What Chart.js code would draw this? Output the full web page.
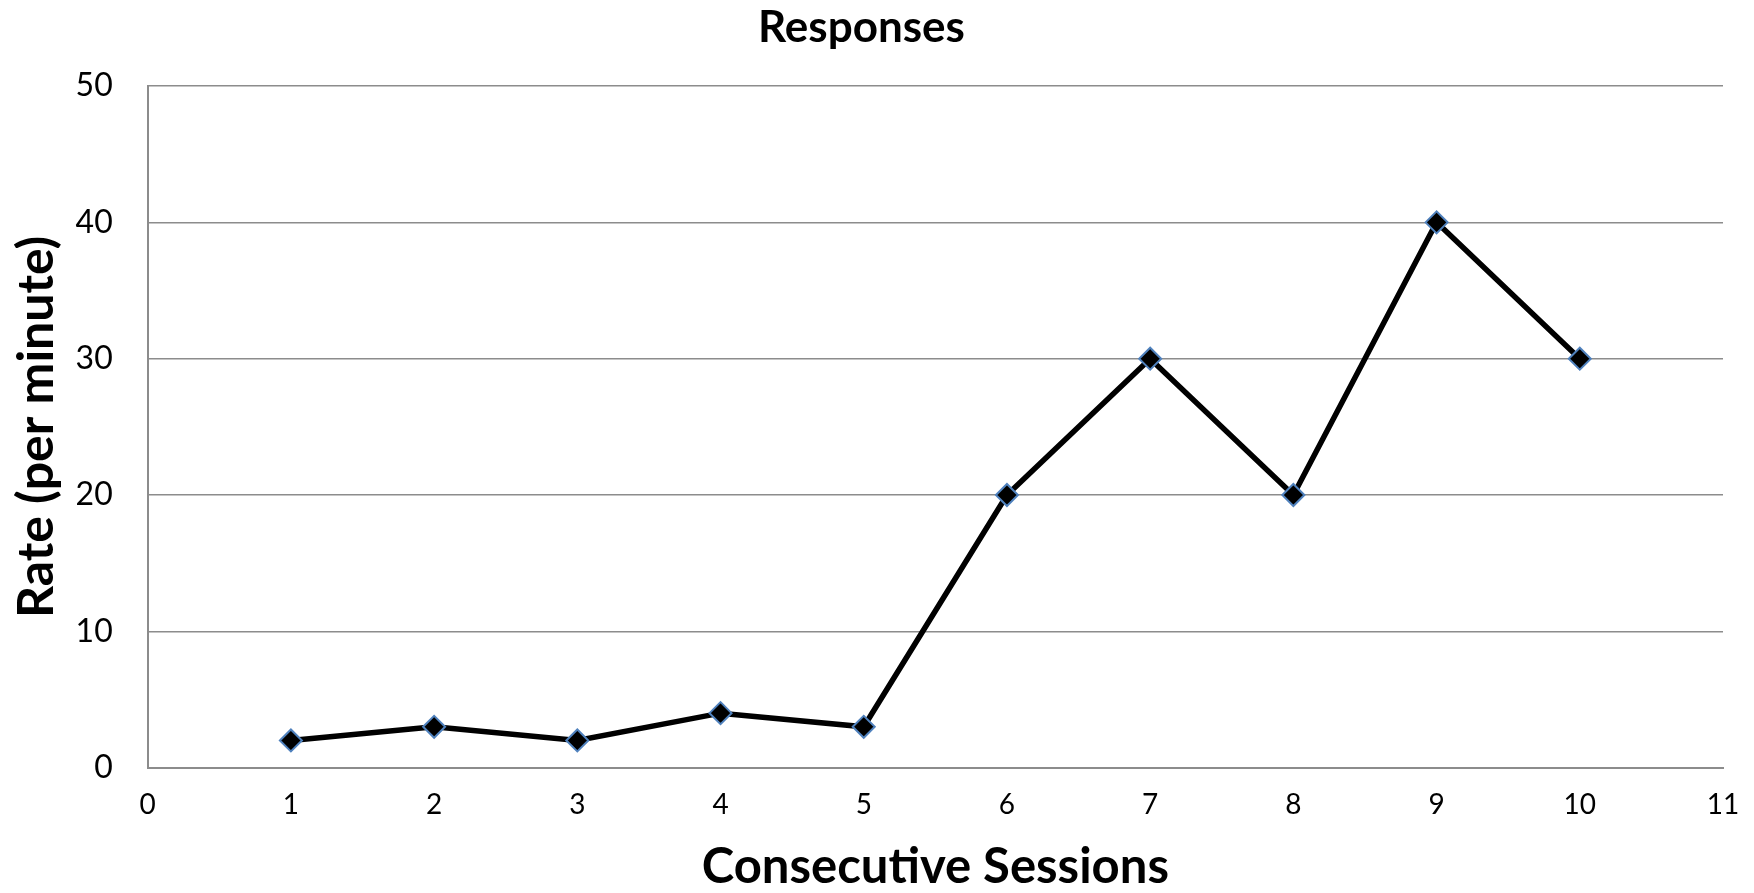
<!DOCTYPE html>
<html>
<head>
<meta charset="utf-8">
<script src="https://cdn.jsdelivr.net/npm/chart.js@4"></script>
<style>
  html, body { margin: 0; padding: 0; background: #fff; }
  canvas { display: block; }
</style>
</head>
<body>
<canvas id="chart" width="1754" height="893"></canvas>
<script>
const sessions = [1, 2, 3, 4, 5, 6, 7, 8, 9, 10];
const rates = [2, 3, 2, 4, 3, 20, 30, 20, 40, 30];

const xMin = 0, xMax = 11;
const yMin = 0, yMax = 50, yStep = 10;

const fontFamily = "Lato, 'Open Sans', sans-serif";
const gridGray = '#8c8c8c';

const ctx = document.getElementById('chart').getContext('2d');

const chart = new Chart(ctx, {
  type: 'line',
  data: {
    datasets: [{
      data: sessions.map((s, i) => ({ x: s, y: rates[i] })),
      borderColor: '#000',
      borderWidth: 5.5,
      tension: 0,
      pointStyle: 'rectRot',
      pointRadius: 11,
      pointBackgroundColor: '#000',
      pointBorderColor: '#4f81bd',
      pointBorderWidth: 2
    }]
  },
  options: {
    responsive: false,
    animation: false,
    devicePixelRatio: 1,
    layout: {
      padding: { left: 0, right: 31, top: 0, bottom: 0 }
    },
    plugins: {
      legend: { display: false },
      tooltip: { enabled: false },
      title: {
        display: true,
        text: 'Responses',
        color: '#000',
        font: { family: fontFamily, size: 44, weight: 'bold', lineHeight: 1.2 },
        padding: { top: 1, bottom: 32.2 }
      }
    },
    scales: {
      x: {
        type: 'linear',
        min: xMin,
        max: xMax,
        afterFit: (scale) => {
          scale.height = 893 - 767.7;
          scale.paddingRight = 0;
        },
        ticks: {
          stepSize: 1,
          color: '#000',
          padding: 20,
          font: { family: fontFamily, size: 28 }
        },
        grid: { display: false, drawTicks: false },
        border: { display: true, color: gridGray, width: 2 },
        title: {
          display: true,
          text: 'Consecutive Sessions',
          color: '#000',
          font: { family: fontFamily, size: 49, weight: 'bold', lineHeight: 1 },
          padding: { top: 0, bottom: 1.5 }
        }
      },
      y: {
        min: yMin,
        max: yMax,
        afterFit: (scale) => { scale.width = 147.7; },
        ticks: {
          stepSize: yStep,
          color: '#000',
          padding: 35,
          font: { family: fontFamily, size: 32 }
        },
        grid: { color: gridGray, lineWidth: 1.5, drawTicks: false },
        border: { display: true, color: gridGray, width: 2 },
        title: {
          display: true,
          text: 'Rate (per minute)',
          color: '#000',
          font: { family: fontFamily, size: 50, weight: 'bold', lineHeight: 1 },
          padding: { top: 12, bottom: 0 }
        }
      }
    }
  }
});
</script>
</body>
</html>
